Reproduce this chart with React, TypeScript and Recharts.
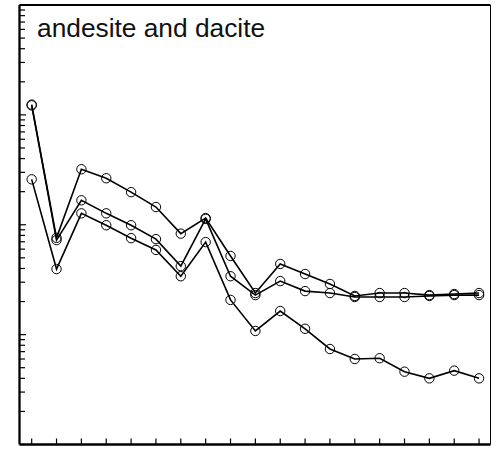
import React from "react";
import { LineChart, Line, XAxis, YAxis } from "recharts";

// element positions along the x axis (no labels in the source plot)
const positions = [0, 1, 2, 3, 4, 5, 6, 7, 8, 9, 10, 11, 12, 13, 14, 15, 16, 17, 18];

// normalized abundances
const sampleA = [124, 7.6, 32, 26.5, 19.8, 14.5, 8.3, 11.5, 5.2, 2.39, 4.4, 3.56, 2.89, 2.25, 2.39, 2.39, 2.29, 2.34, 2.39];
const sampleB = [122, 7.25, 16.7, 12.7, 9.9, 7.4, 4.2, 11.3, 3.4, 2.29, 3.07, 2.49, 2.39, 2.2, 2.2, 2.2, 2.25, 2.29, 2.29];
const sampleC = [25.9, 3.95, 12.7, 9.9, 7.55, 5.9, 3.4, 6.95, 2.07, 1.08, 1.64, 1.13, 0.74, 0.6, 0.61, 0.46, 0.4, 0.47, 0.4];

const yTicks = [
  0.1, 0.2, 0.3, 0.4, 0.5, 0.6, 0.7, 0.8, 0.9,
  1, 2, 3, 4, 5, 6, 7, 8, 9,
  10, 20, 30, 40, 50, 60, 70, 80, 90,
  100, 200, 300, 400, 500, 600, 700, 800, 900,
  1000,
];
const majorTicks = [0.1, 1, 10, 100, 1000];

const TITLE = "andesite and dacite";

const data = positions.map((pos, i) => ({
  pos,
  a: sampleA[i],
  b: sampleB[i],
  c: sampleC[i],
}));

// inward-pointing tick marks
const LeftTick = (props: any) => {
  const { x, y, payload } = props;
  const len = majorTicks.includes(payload.value) ? 6.5 : 5.5;
  return <line x1={x} y1={y} x2={x + len} y2={y} stroke="#000" strokeWidth={1.2} />;
};

const BottomTick = (props: any) => {
  const { x, y } = props;
  return <line x1={x} y1={y} x2={x} y2={y - 6} stroke="#000" strokeWidth={1.2} />;
};

const dotStyle = { r: 4.7, stroke: "#000", strokeWidth: 1, fill: "none" };

export default function App() {
  return (
    <div
      style={{
        position: "fixed",
        left: 0,
        top: 0,
        width: 499,
        height: 449,
        background: "#fff",
      }}
    >
      <LineChart
        width={499}
        height={449}
        data={data}
        margin={{ top: 4, right: 7.5, bottom: 3.5, left: 18.5 }}
      >
        <XAxis
          dataKey="pos"
          type="number"
          domain={[-0.49, 18.46]}
          allowDataOverflow
          ticks={positions}
          interval={0}
          height={1}
          tickSize={0}
          tickMargin={0}
          tick={<BottomTick />}
          axisLine={{ stroke: "#000", strokeWidth: 2.3 }}
        />
        <XAxis
          xAxisId="top"
          orientation="top"
          type="number"
          domain={[0, 1]}
          height={1}
          tick={false}
          tickLine={false}
          axisLine={{ stroke: "#000", strokeWidth: 1.8 }}
        />
        <YAxis
          scale="log"
          domain={[0.1, 1000]}
          allowDataOverflow
          ticks={yTicks}
          interval={0}
          width={1}
          tickSize={0}
          tickMargin={0}
          tick={<LeftTick />}
          axisLine={{ stroke: "#000", strokeWidth: 2.3 }}
        />
        <YAxis
          yAxisId="right"
          orientation="right"
          domain={[0, 1]}
          width={1}
          tick={false}
          tickLine={false}
          axisLine={{ stroke: "#000", strokeWidth: 1 }}
        />
        <Line dataKey="a" stroke="#000" strokeWidth={1.6} dot={dotStyle} isAnimationActive={false} />
        <Line dataKey="b" stroke="#000" strokeWidth={1.6} dot={dotStyle} isAnimationActive={false} />
        <Line dataKey="c" stroke="#000" strokeWidth={1.6} dot={dotStyle} isAnimationActive={false} />
      </LineChart>
      <svg
        width={499}
        height={449}
        style={{ position: "absolute", left: 0, top: 0, pointerEvents: "none" }}
      >
        <text
          x={37}
          y={36.7}
          fontSize={26.3}
          fontFamily="'Liberation Sans', Arial, Helvetica, sans-serif"
          fill="#111"
        >
          {TITLE}
        </text>
      </svg>
    </div>
  );
}
